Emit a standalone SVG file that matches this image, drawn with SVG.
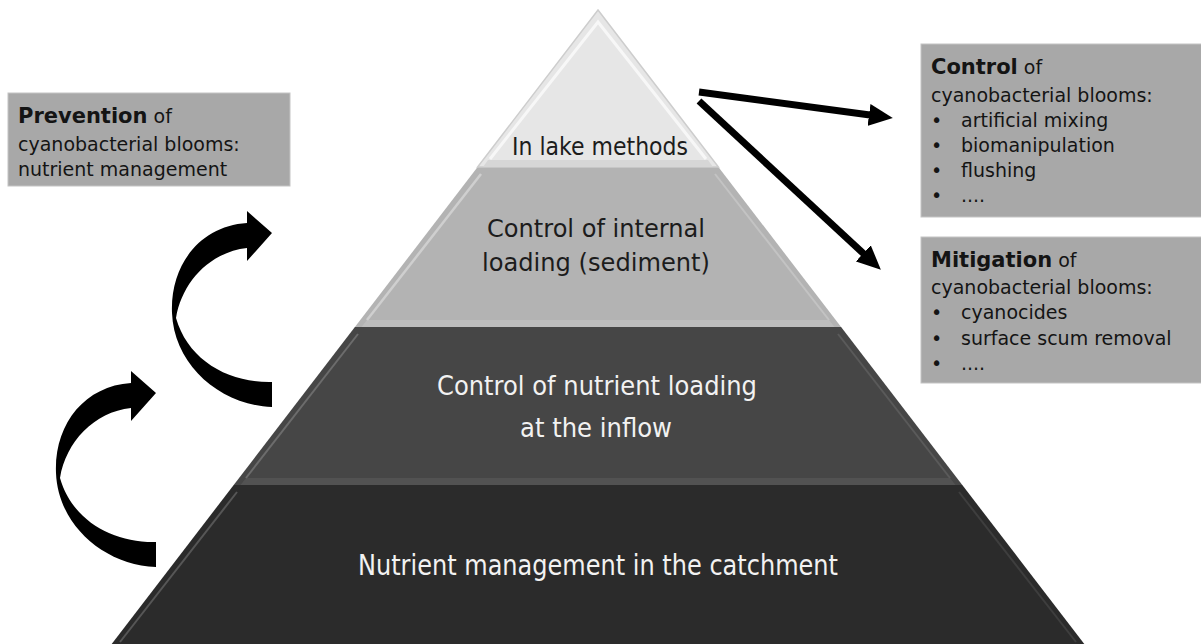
<svg xmlns="http://www.w3.org/2000/svg" width="1201" height="644" viewBox="0 0 1201 644">
<style>
  .box { fill: #a8a8a8; stroke: #c4c4c4; stroke-width: 1; }
  .bt { font-family: "DejaVu Sans", "Liberation Sans", sans-serif; font-size: 19px; fill: #141414; }
  .bh { font-weight: bold; font-size: 21px; }
  .pt { font-family: "DejaVu Sans", "Liberation Sans", sans-serif; text-anchor: middle; }
  .dark { fill: #1c1c1c; }
  .light { fill: #f2f2f2; }
  .conn { stroke: #000; stroke-width: 7; fill: none; }
  .curv { fill: #000; }
</style>
<defs>
  <marker id="head" markerUnits="userSpaceOnUse" markerWidth="26" markerHeight="22" refX="1" refY="11" orient="auto">
    <path d="M0,0 L24,11 L0,22 Z" fill="#000"/>
  </marker>
</defs>
<rect width="1201" height="644" fill="#ffffff"/>

<!-- Layer 4 -->
<g id="layer4">
  <polygon points="233.7,485 962.3,485 1084.3,644 111.7,644" fill="#2b2b2b"/>
  <line x1="237" y1="492" x2="120" y2="642" stroke="#565656" stroke-width="2"/>
  <line x1="959" y1="492" x2="1076" y2="642" stroke="#3e3e3e" stroke-width="2"/>
  <text class="pt light" x="598" y="575" font-size="28" textLength="480" lengthAdjust="spacingAndGlyphs">Nutrient management in the catchment</text>
</g>

<!-- Layer 3 -->
<g id="layer3">
  <polygon points="354.9,327 841.1,327 962.3,485 233.7,485" fill="#464646"/>
  <polygon points="246,478 950,478 955.5,485 240.5,485" fill="#525252"/>
  <line x1="358" y1="334" x2="246" y2="478" stroke="#6c6c6c" stroke-width="2"/>
  <line x1="838" y1="334" x2="950" y2="478" stroke="#5a5a5a" stroke-width="2"/>
  <text class="pt light" x="597" y="395" font-size="27" textLength="320" lengthAdjust="spacingAndGlyphs">Control of nutrient loading</text>
  <text class="pt light" x="596" y="437" font-size="27" textLength="152" lengthAdjust="spacingAndGlyphs">at the inflow</text>
</g>

<!-- Layer 2 -->
<g id="layer2">
  <polygon points="477.6,167 718.4,167 841.1,327 354.9,327" fill="#b3b3b3"/>
  <polygon points="367,320 829,320 834.5,327 361.5,327" fill="#bdbdbd"/>
  <line x1="481" y1="174" x2="367" y2="320" stroke="#cfcfcf" stroke-width="2.5"/>
  <line x1="715" y1="174" x2="829" y2="320" stroke="#c3c3c3" stroke-width="2"/>
  <text class="pt dark" x="596" y="237" font-size="24" textLength="218" lengthAdjust="spacingAndGlyphs">Control of internal</text>
  <text class="pt dark" x="596" y="271" font-size="24" textLength="228" lengthAdjust="spacingAndGlyphs">loading (sediment)</text>
</g>

<!-- Layer 1 -->
<g id="layer1">
  <polygon points="598,10 718.4,167 477.6,167" fill="#e6e6e6" stroke="#cdcdcd" stroke-width="1.5"/>
  <polygon points="488,160 708,160 713,167 483,167" fill="#d6d6d6"/>
  <polyline points="490,159 598,22 706,159" fill="none" stroke="#f7f7f7" stroke-width="3"/>
  <text class="pt dark" x="600" y="155" font-size="24" textLength="176" lengthAdjust="spacingAndGlyphs">In lake methods</text>
</g>

<!-- Prevention box -->
<g id="prevention">
  <rect class="box" x="8" y="93" width="282" height="93"/>
  <text class="bt" x="18" y="123"><tspan class="bh">Prevention</tspan> of</text>
  <text class="bt" x="18" y="151">cyanobacterial blooms:</text>
  <text class="bt" x="18" y="176">nutrient management</text>
</g>

<!-- Control box -->
<g id="control">
  <rect class="box" x="921" y="44" width="285" height="173"/>
  <text class="bt" x="931" y="74"><tspan class="bh">Control</tspan> of</text>
  <text class="bt" x="931" y="102">cyanobacterial blooms:</text>
  <text class="bt" x="931" y="127">•</text><text class="bt" x="961" y="127">artificial mixing</text>
  <text class="bt" x="931" y="152">•</text><text class="bt" x="961" y="152">biomanipulation</text>
  <text class="bt" x="931" y="177">•</text><text class="bt" x="961" y="177">flushing</text>
  <text class="bt" x="931" y="202">•</text><text class="bt" x="961" y="202">....</text>
</g>

<!-- Mitigation box -->
<g id="mitigation">
  <rect class="box" x="921" y="237" width="285" height="146"/>
  <text class="bt" x="931" y="267"><tspan class="bh">Mitigation</tspan> of</text>
  <text class="bt" x="931" y="294">cyanobacterial blooms:</text>
  <text class="bt" x="931" y="319">•</text><text class="bt" x="961" y="319">cyanocides</text>
  <text class="bt" x="931" y="345">•</text><text class="bt" x="961" y="345">surface scum removal</text>
  <text class="bt" x="931" y="370">•</text><text class="bt" x="961" y="370">....</text>
</g>

<!-- Connectors -->
<g id="connectors">
  <line class="conn" x1="699" y1="92" x2="870" y2="115" marker-end="url(#head)"/>
  <line class="conn" x1="699" y1="101" x2="864" y2="254" marker-end="url(#head)"/>
  <path class="curv" d="M272,382 C228,383 188,360 176,318 C182,282 210,252 247,248 L247,261 L272,233 L247,211 L247,223 C200,226 170,265 172,313 C174,365 220,405 272,407 Z"/>
  <path class="curv" transform="translate(-116,160)" d="M272,382 C228,383 188,360 176,318 C182,282 210,252 247,248 L247,261 L272,233 L247,211 L247,223 C200,226 170,265 172,313 C174,365 220,405 272,407 Z"/>
</g>
</svg>
